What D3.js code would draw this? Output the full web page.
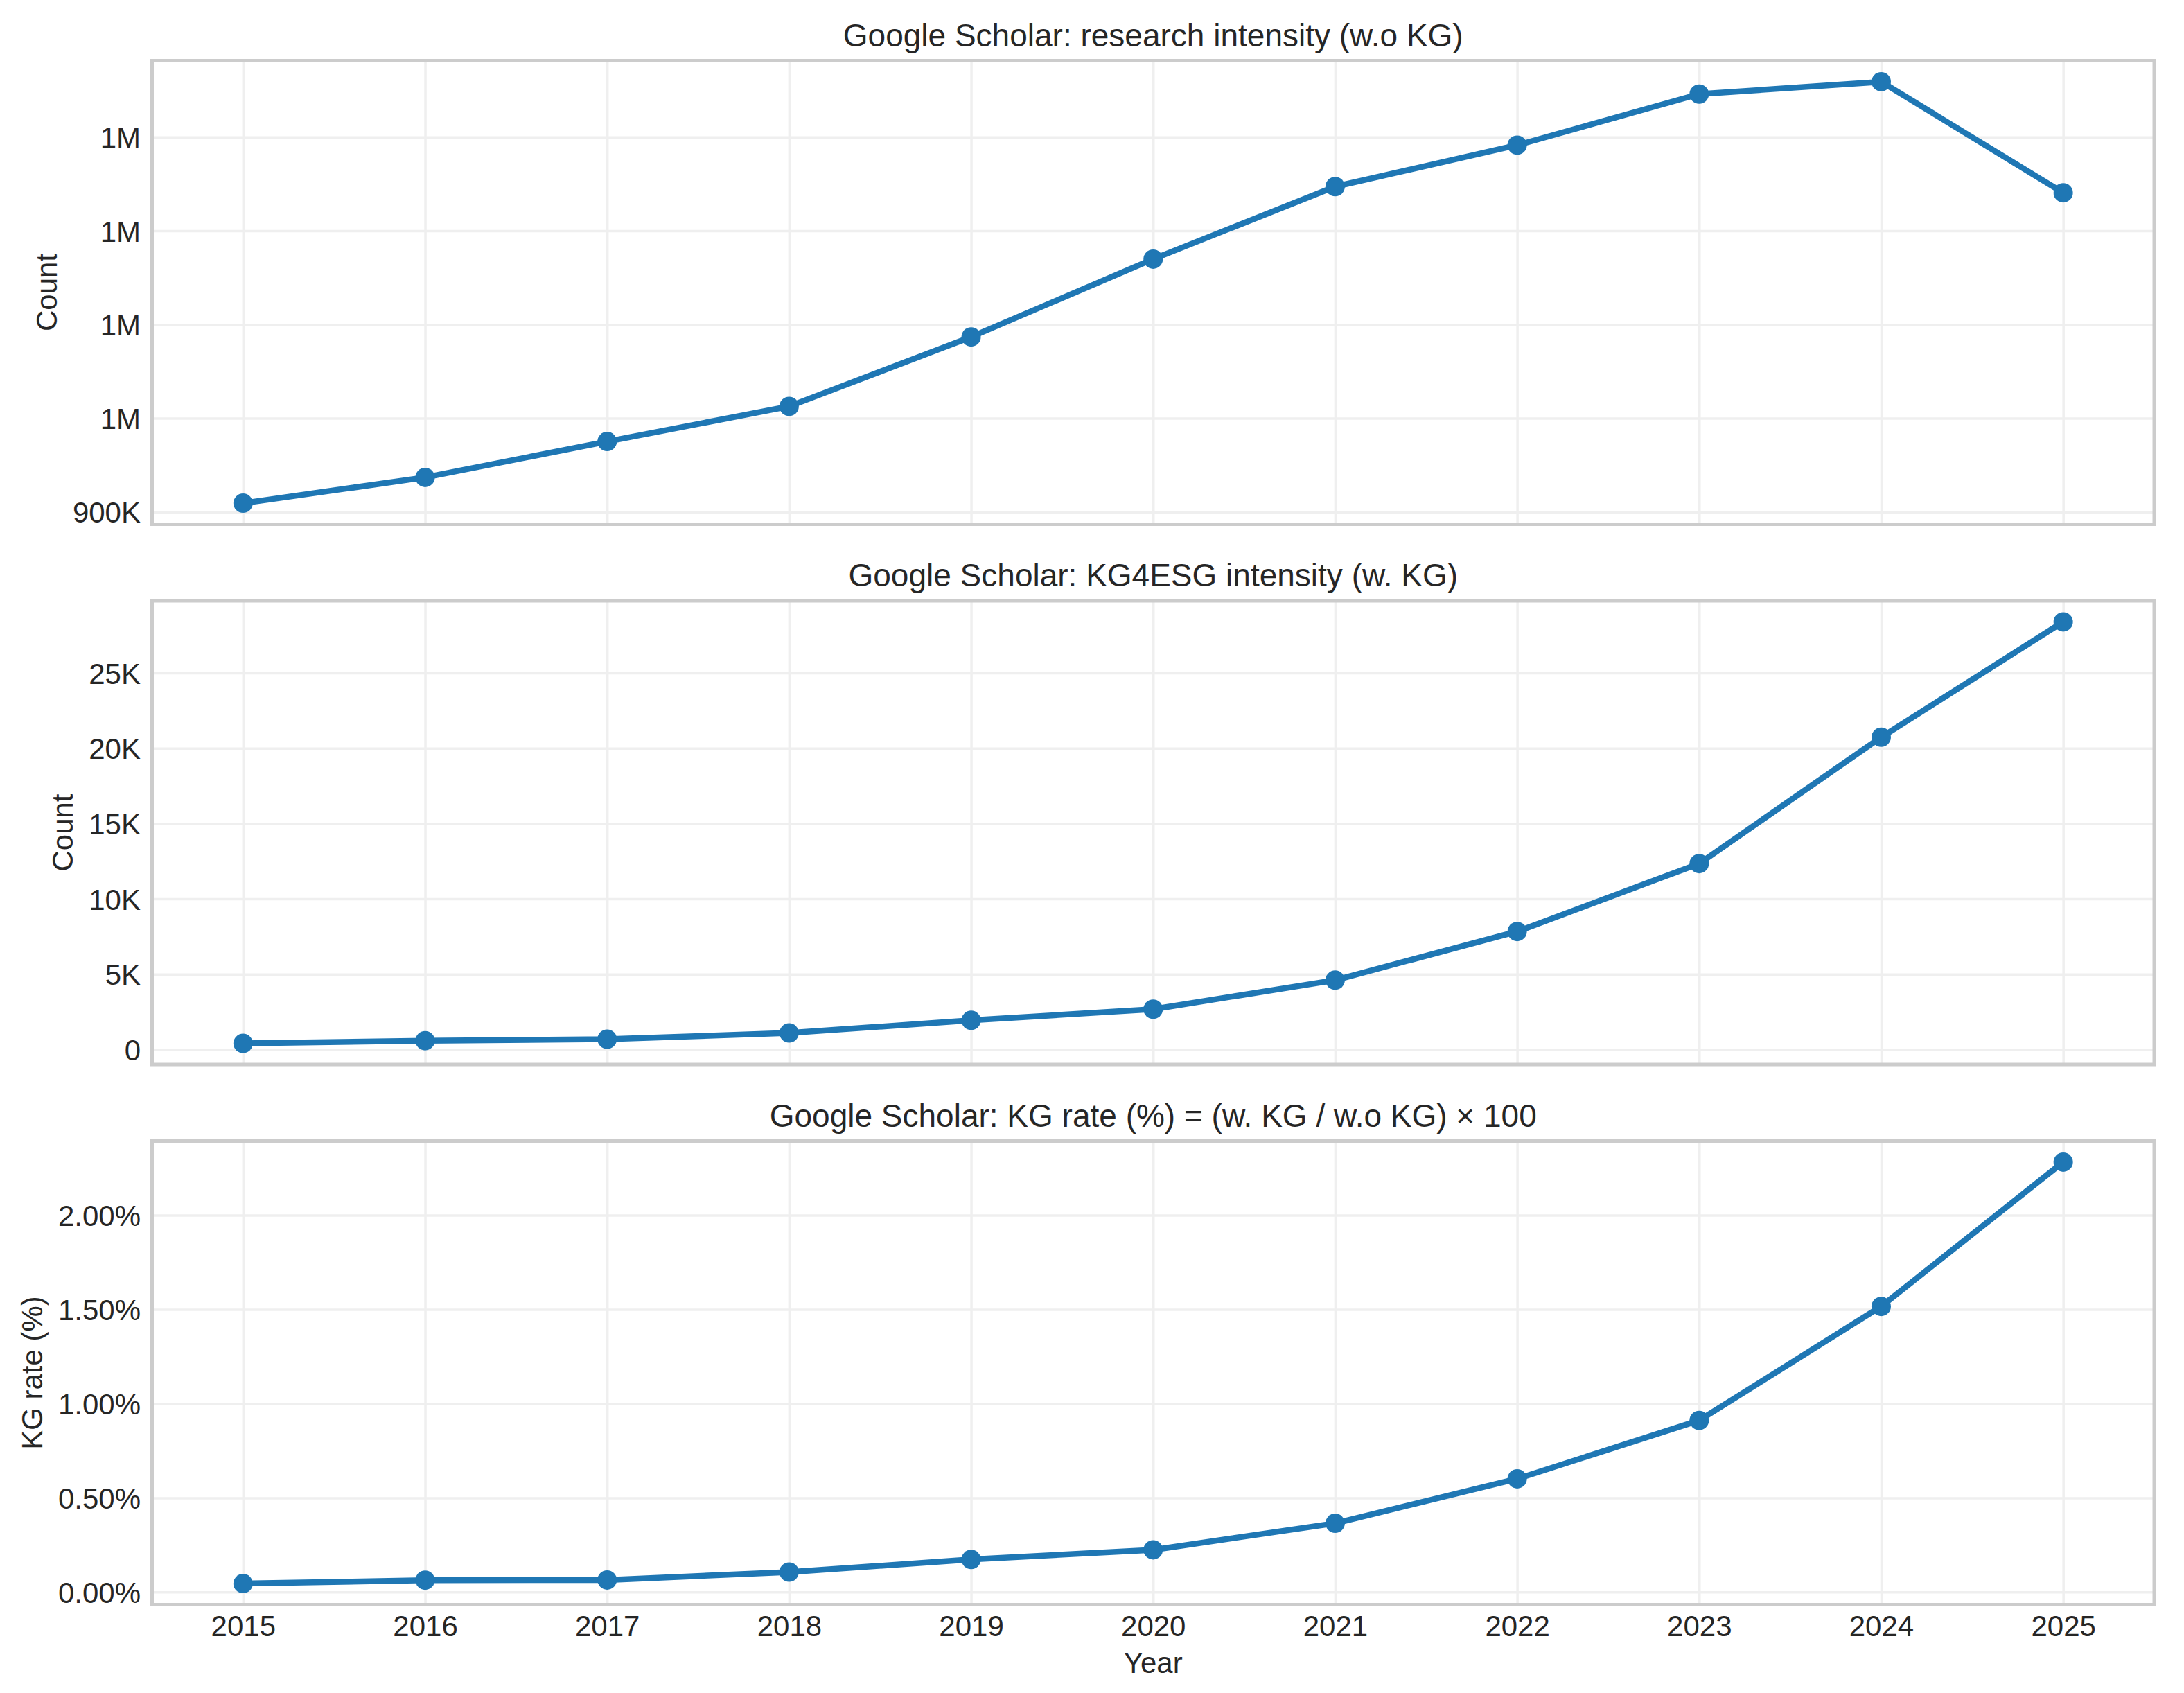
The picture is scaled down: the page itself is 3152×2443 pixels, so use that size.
<!DOCTYPE html>
<html>
<head>
<meta charset="utf-8">
<script src="https://cdn.jsdelivr.net/npm/d3@7"></script>
<style>
  body { margin: 0; background: #fff; }
  text { font-family: "Liberation Sans", Arial, sans-serif; fill: #262626; }
</style>
</head>
<body>
<div id="chart"></div>
<script>
// Data
const years = [2015, 2016, 2017, 2018, 2019, 2020, 2021, 2022, 2023, 2024, 2025];
const researchCounts = [909400, 936900, 975200, 1012700, 1086800, 1169800, 1247200, 1291400, 1345900, 1359100, 1240600];
const kgCounts = [400, 580, 680, 1090, 1930, 2670, 4600, 7830, 12340, 20730, 28390];
const kgRates = [0.045, 0.063, 0.064, 0.106, 0.173, 0.224, 0.365, 0.601, 0.911, 1.516, 2.282];

// Tick values and labels
const researchTicks = [900000, 1000000, 1100000, 1200000, 1300000];
const researchTickLabels = ["900K", "1M", "1M", "1M", "1M"];
const kgTicks = [0, 5000, 10000, 15000, 20000, 25000];
const kgTickLabels = ["0", "5K", "10K", "15K", "20K", "25K"];
const rateTicks = [0, 0.5, 1, 1.5, 2];
const rateTickLabels = ["0.00%", "0.50%", "1.00%", "1.50%", "2.00%"];

const titles = [
    "Google Scholar: research intensity (w.o KG)",
    "Google Scholar: KG4ESG intensity (w. KG)",
    "Google Scholar: KG rate (%) = (w. KG / w.o KG) \u00d7 100"
];
const yLabels = ["Count", "Count", "KG rate (%)"];

//Dims
const width = 3152;
const height = 2443;
const left = 219.5;
const right = 3109;
const axisH = 669;
const tops = [87.5, 867, 1646.5];
const color = "#1f77b4";
const fontSize = 42;
const titleSize = 46;

const svg = d3.select("#chart")
    .append("svg")
    .attr("width", width)
    .attr("height", height);

//shared x scale (half a year padding like matplotlib margins)
const xScale = d3.scaleLinear()
    .domain([years[0] - 0.5, years[years.length - 1] + 0.5])
    .range([left, right]);

const panels = [
    {values: researchCounts, ticks: researchTicks, labels: researchTickLabels},
    {values: kgCounts, ticks: kgTicks, labels: kgTickLabels},
    {values: kgRates, ticks: rateTicks, labels: rateTickLabels}
];

panels.forEach((p, i) => {
    const top = tops[i];
    const bottom = top + axisH;
    const [lo, hi] = d3.extent(p.values);
    const pad = (hi - lo) * 0.05;
    const yScale = d3.scaleLinear()
        .domain([lo - pad, hi + pad])
        .range([bottom, top]);

    const g = svg.append("g");

    //vertical grid + year labels
    const xAxis = g.append("g")
        .attr("transform", `translate(0,${bottom})`)
        .call(d3.axisBottom(xScale)
            .tickValues(years)
            .tickFormat(i === 2 ? d3.format("d") : () => "")
            .tickSizeInner(-axisH)
            .tickSizeOuter(0)
            .tickPadding(16));
    xAxis.select(".domain").remove();
    xAxis.selectAll("line").attr("stroke", "#efefef").attr("stroke-width", 3.5);
    xAxis.selectAll("text").attr("font-size", fontSize).attr("fill", "#262626")
        .attr("font-family", "Liberation Sans, Arial, sans-serif");

    //horizontal grid + y labels
    const yAxis = g.append("g")
        .attr("transform", `translate(${left},0)`)
        .call(d3.axisLeft(yScale)
            .tickValues(p.ticks)
            .tickFormat((d, k) => p.labels[k])
            .tickSizeInner(-(right - left))
            .tickSizeOuter(0)
            .tickPadding(16.5));
    yAxis.select(".domain").remove();
    yAxis.selectAll("line").attr("stroke", "#efefef").attr("stroke-width", 3.5);
    yAxis.selectAll("text").attr("font-size", fontSize).attr("fill", "#262626")
        .attr("dy", "0.36em")
        .attr("font-family", "Liberation Sans, Arial, sans-serif");

    //widest tick label -> ylabel position
    let maxW = 0;
    yAxis.selectAll("text").each(function() {
        maxW = Math.max(maxW, this.getComputedTextLength());
    });
    const labelX = left - 16.5 - maxW - 23;
    g.append("text")
        .attr("transform", `translate(${labelX},${(top + bottom) / 2}) rotate(-90)`)
        .attr("text-anchor", "middle")
        .attr("font-size", fontSize)
        .text(yLabels[i]);

    //title
    g.append("text")
        .attr("x", (left + right) / 2)
        .attr("y", top - 21)
        .attr("text-anchor", "middle")
        .attr("font-size", titleSize)
        .text(titles[i]);

    //line + markers
    const line = d3.line()
        .x((d, k) => xScale(years[k]))
        .y(d => yScale(d));
    g.append("path")
        .datum(p.values)
        .attr("d", line)
        .attr("fill", "none")
        .attr("stroke", color)
        .attr("stroke-width", 8.5)
        .attr("stroke-linejoin", "round");
    g.selectAll("circle")
        .data(p.values)
        .enter()
        .append("circle")
        .attr("cx", (d, k) => xScale(years[k]))
        .attr("cy", d => yScale(d))
        .attr("r", 14)
        .attr("fill", color);

    //frame
    g.append("rect")
        .attr("x", left)
        .attr("y", top)
        .attr("width", right - left)
        .attr("height", axisH)
        .attr("fill", "none")
        .attr("stroke", "#cccccc")
        .attr("stroke-width", 5);
});

//x label
svg.append("text")
    .attr("x", (left + right) / 2)
    .attr("y", 2414)
    .attr("text-anchor", "middle")
    .attr("font-size", fontSize)
    .text("Year");
</script>
</body>
</html>
